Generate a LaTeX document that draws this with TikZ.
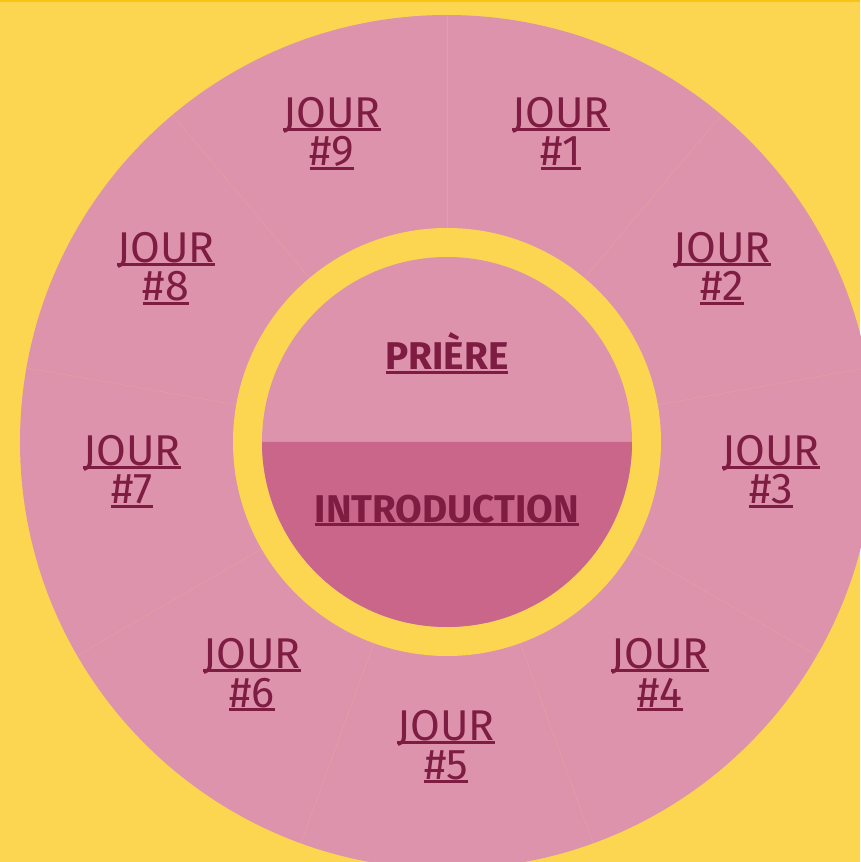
\documentclass[tikz,border=0pt]{standalone}
\usepackage{fontspec}
\setmainfont{Fira Sans}

\definecolor{bgyellow}{HTML}{FCD651}
\definecolor{topband}{HTML}{F8C313}
\definecolor{wheel}{HTML}{DC93AB}
\definecolor{introfill}{HTML}{CA6689}
\definecolor{daytext}{HTML}{7E1C42}
\definecolor{sepline}{HTML}{E3A0A3}

\newsavebox\ulbox
\newcommand\ulin[1]{\sbox\ulbox{#1}\rlap{\rule[-2.3pt]{\wd\ulbox}{1.7pt}}\usebox\ulbox}

\tikzset{
  jour/.style = {anchor = base, inner sep = 0pt, align = center, text = daytext,
    font = \fontsize{24.5}{22}\selectfont},
  part/.style = {anchor = base, inner sep = 0pt, text = daytext,
    font = \bfseries\fontsize{22}{26}\selectfont},
  divider/.style = {draw = sepline, line width = 0.3pt},
}

\begin{document}
\begin{tikzpicture}[x = 0.02cm, y = 0.02cm]
  \useasboundingbox (-447, -420) rectangle (413, 442);
  \fill[bgyellow] (-447, -420) rectangle (413, 442);
  \fill[topband] (-447, 439.5) rectangle (413, 442);

  % outer wheel with the nine days
  \coordinate (c) at (0, 0);
  \fill[wheel] (c) circle[radius = 427];
  \foreach \a in {10, 50, ..., 330}
    \draw[divider] (\a:214) -- (\a:427);

  % inner ring and centre
  \fill[bgyellow] (c) circle[radius = 214];
  \fill[wheel] (c) circle[radius = 185];
  \fill[introfill] (-185, 0) arc[start angle = 180, end angle = 360, radius = 185] -- cycle;

  % base of each node is the baseline of its second line
  \foreach \n/\px/\py in {1/114/276, 2/275/141, 3/324/-62, 4/213/-265, 5/-1/-337,
                          6/-195/-265, 7/-315/-62, 8/-281/141, 9/-115/276}
    \node[jour] (day\n) at (\px, \py) {\ulin{JOUR}\\\ulin{\#\n}};

  \node[part] (prayer) at (0, 72) {\ulin{PRIÈRE}};
  \node[part] (intro) at (0, -80) {\ulin{INTRODUCTION}};
\end{tikzpicture}
\end{document}
